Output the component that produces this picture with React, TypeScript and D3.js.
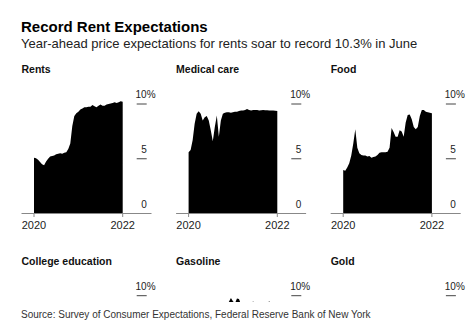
import React from "react";
import * as d3 from "d3";

// ---- Data ----
const panelTitles = ["Rents", "Medical care", "Food", "College education", "Gasoline", "Gold"];
const xTickLabels = ["2020", "2022"];
const yTicks = [0, 5, 10];

const rents = [
  5.1, 5.05, 4.9, 4.7, 4.5, 4.4, 4.75, 5.0, 5.2, 5.25, 5.3, 5.4, 5.45, 5.5, 5.45,
  5.55, 5.6, 5.9, 6.4, 8.0, 8.9, 9.15, 9.3, 9.5, 9.6, 9.7, 9.7, 9.75, 9.75, 9.9,
  9.8, 9.7, 9.85, 9.95, 9.85, 9.85, 9.95, 10.0, 10.05, 10.1, 10.15, 10.1, 10.15, 10.25, 10.2,
];
const medical = [
  5.6, 5.8, 6.7, 8.2, 9.1, 9.33, 9.1, 8.5, 8.8, 8.9, 8.5, 7.6, 6.6, 7.9, 8.95,
  7.0, 8.5, 9.1, 9.2, 9.25, 9.25, 9.2, 9.25, 9.3, 9.3, 9.35, 9.4, 9.4, 9.45, 9.55,
  9.45, 9.4, 9.45, 9.45, 9.45, 9.4, 9.42, 9.45, 9.42, 9.42, 9.4, 9.4, 9.4, 9.38, 9.37,
];
const food = [
  3.97, 3.9, 4.2, 4.6, 5.3, 6.4, 7.7, 6.0, 5.5, 5.35, 5.3, 5.3, 5.2, 5.25, 5.1,
  5.15, 5.2, 5.35, 5.55, 5.6, 5.6, 5.6, 5.65, 6.0, 7.8, 7.45, 7.0, 7.0, 7.6, 7.5,
  7.0, 8.3, 9.0, 9.05, 8.6, 7.9, 7.7, 7.9, 8.9, 9.45, 9.45, 9.3, 9.25, 9.2, 9.15,
];
// Only the peaks of the gasoline series are visible above the crop line
const gasoline = [
  8.2, 8.0, 7.8, 7.9, 8.1, 8.3, 8.4, 8.5, 8.6, 8.6, 8.7, 8.8, 8.8, 8.9, 8.9,
  9.0, 9.0, 9.1, 9.0, 9.0, 9.45, 9.8, 9.5, 9.3, 9.75, 9.7, 9.2, 9.0, 9.1, 9.2,
  9.1, 9.2, 9.5, 9.1, 9.0, 9.1, 9.2, 9.1, 9.2, 9.3, 9.5, 9.2, 9.1, 9.0, 9.0,
];
const series: (number[] | null)[] = [rents, medical, food, null, gasoline, null];

// ---- Layout ----
const W = 474;
const H = 325;
const CROP = 302;
const FONT = "'Liberation Sans', Arial, Helvetica, sans-serif";
const panelStep = 154.6;
const firstLeft = 34;
const plotW = 88.7;
const rowOffset = 191.7;

function Panel({ idx }: { idx: number }) {
  const col = idx % 3;
  const row = Math.floor(idx / 3);
  const left = firstLeft + col * panelStep;
  const dy = row * rowOffset;
  const data = series[idx];
  const n = rents.length;
  const x = d3.scaleLinear().domain([0, n - 1]).range([left, left + plotW]);
  const y = d3.scaleLinear().domain([0, 10]).range([213.5 + dy, 104 + dy]);
  const area = d3
    .area<number>()
    .x((_, i) => x(i))
    .y0(y(0))
    .y1((v) => y(v));
  const dashX0 = left + 102.7;
  const dashX1 = left + 112.7;
  const visible = y(0) < CROP;
  return (
    <g>
      <text x={left - 12.5} y={73.3 + dy} fontFamily={FONT} fontWeight="bold" fontSize={10.5} fill="#111">
        {panelTitles[idx]}
      </text>
      {data && <path d={area(data) || ""} fill="#000" clipPath="url(#crop)" />}
      {visible && (
        <line x1={left - 12.5} x2={left + 117.5} y1={y(0)} y2={y(0)} stroke="#888" strokeWidth={1} />
      )}
      {visible &&
        xTickLabels.map((t, i) => {
          const xx = x(i === 0 ? 0 : n - 1);
          return (
            <g key={t}>
              <line x1={xx} x2={xx} y1={y(0)} y2={y(0) + 3.5} stroke="#888" strokeWidth={1} />
              <text x={xx} y={228.5 + dy} textAnchor="middle" fontFamily={FONT} fontSize={11} fill="#222">
                {t}
              </text>
            </g>
          );
        })}
      {yTicks
        .filter((t) => y(t) < CROP)
        .map((t) => (
          <g key={t}>
            {t !== 0 && <line x1={dashX0} x2={dashX1} y1={y(t)} y2={y(t)} stroke="#444" strokeWidth={1} />}
            <text x={dashX1} y={y(t) - 5.7} textAnchor="end" fontFamily={FONT} fontSize={10} fill="#222">
              {t}
            </text>
            {t === 10 && (
              <text x={dashX1} y={y(t) - 5.7} fontFamily={FONT} fontSize={10} fill="#222">
                %
              </text>
            )}
          </g>
        ))}
    </g>
  );
}

export default function App() {
  return (
    <svg
      width={W}
      height={H}
      viewBox={`0 0 ${W} ${H}`}
      style={{ position: "fixed", left: 0, top: 0, background: "#fff" }}
    >
      <defs>
        <clipPath id="crop">
          <rect x={0} y={0} width={W} height={CROP} />
        </clipPath>
      </defs>
      <rect x={0} y={0} width={W} height={H} fill="#fff" />
      <text x={21} y={32} fontFamily={FONT} fontWeight="bold" fontSize={15} fill="#000">
        Record Rent Expectations
      </text>
      <text x={21} y={48.3} fontFamily={FONT} fontSize={13} fill="#222">
        Year-ahead price expectations for rents soar to record 10.3% in June
      </text>
      {panelTitles.map((_, i) => (
        <Panel key={i} idx={i} />
      ))}
      <text x={21} y={318} fontFamily={FONT} fontSize={10} fill="#333">
        Source: Survey of Consumer Expectations, Federal Reserve Bank of New York
      </text>
    </svg>
  );
}
